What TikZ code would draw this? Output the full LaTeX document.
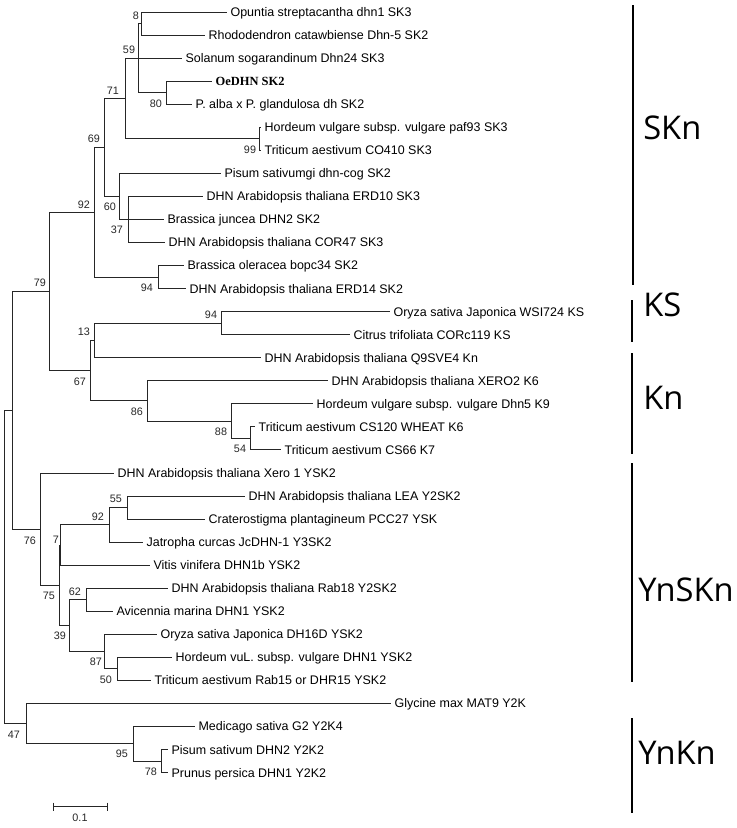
\documentclass[tikz,border=0pt]{standalone}
\usepackage{fontspec}
\setmainfont{Liberation Sans}
\newfontfamily\oefont{Liberation Serif}
\newfontfamily\cladefont{Open Sans}
\usetikzlibrary{positioning}
\tikzstyle{branch} = [line width=0.7pt, black!85]
\tikzstyle{leaf} = [anchor=base west, inner xsep=2.5pt, inner ysep=0pt, yshift=-3.3pt, font=\fontsize{9.35}{11}\selectfont]
\tikzstyle{boot} = [inner sep=0pt, black!85, font=\fontsize{8.1}{10}\selectfont]
\tikzstyle{cladebar} = [line width=1.4pt]
\tikzstyle{cladename} = [anchor=west, inner sep=0pt, font=\cladefont\fontsize{24.5}{29}\selectfont]

\begin{document}
\begin{tikzpicture}[x=0.75pt, y=-0.75pt]
\useasboundingbox (0,0) rectangle (737,828);

% leaf tips
\coordinate (t1) at (227,12.0);
\coordinate (t2) at (205,35.05);
\coordinate (t3) at (182,58.1);
\coordinate (t4) at (212,81.15);
\coordinate (t5) at (192,104.2);
\coordinate (t6) at (261,127.25);
\coordinate (t7) at (261,150.3);
\coordinate (t8) at (221,173.35);
\coordinate (t9) at (203,196.4);
\coordinate (t10) at (164,219.45);
\coordinate (t11) at (165,242.5);
\coordinate (t12) at (184,265.55);
\coordinate (t13) at (186,288.6);
\coordinate (t14) at (390,311.65);
\coordinate (t15) at (350,334.7);
\coordinate (t16) at (261,357.75);
\coordinate (t17) at (328,380.8);
\coordinate (t18) at (313,403.85);
\coordinate (t19) at (255,426.9);
\coordinate (t20) at (281,449.95);
\coordinate (t21) at (114,473.0);
\coordinate (t22) at (245,496.05);
\coordinate (t23) at (205,519.1);
\coordinate (t24) at (143,542.15);
\coordinate (t25) at (150,565.2);
\coordinate (t26) at (168,588.25);
\coordinate (t27) at (113,611.3);
\coordinate (t28) at (157,634.35);
\coordinate (t29) at (172,657.4);
\coordinate (t30) at (151,680.45);
\coordinate (t31) at (391,703.5);
\coordinate (t32) at (195,726.55);
\coordinate (t33) at (168,749.6);
\coordinate (t34) at (168,772.65);

% inner nodes
\coordinate (n8) at (141.5,23.5);
\coordinate (n80) at (166,92.7);
\coordinate (n59) at (138.5,58.1);
\coordinate (n99) at (259.5,138.8);
\coordinate (n71) at (125,98.45);
\coordinate (n37) at (128,219.45);
\coordinate (n60) at (119,196.4);
\coordinate (n69) at (104,147.4);
\coordinate (n94a) at (158,277.1);
\coordinate (n92a) at (94.5,212.25);
\coordinate (n94b) at (221,323.2);
\coordinate (n13) at (94.5,340.5);
\coordinate (n54) at (250,438.4);
\coordinate (n88) at (231,421.1);
\coordinate (n86) at (147,400.95);
\coordinate (n67) at (90,370.7);
\coordinate (n79) at (49,291.5);
\coordinate (n55) at (127,507.6);
\coordinate (n92b) at (109,524.9);
\coordinate (n7) at (60,545.05);
\coordinate (n62) at (86,599.8);
\coordinate (n50) at (117,668.9);
\coordinate (n87) at (104,651.6);
\coordinate (n39) at (69,625.7);
\coordinate (n75) at (59,585.4);
\coordinate (n76) at (40,529.2);
\coordinate (nup) at (12,410.35);
\coordinate (n78) at (161,761.1);
\coordinate (n95) at (133.5,743.8);
\coordinate (n47) at (26,723.65);
\coordinate (root) at (4.5,567);

% branches
\draw[branch] (n8) |- (t1) (n8) |- (t2);
\draw[branch] (n80) |- (t4) (n80) |- (t5);
\draw[branch] (n59) |- (n8) (n59) |- (n80);
\draw[branch] (n99) |- (t6) (n99) |- (t7);
\draw[branch] (n71) |- (t3) (n71) |- (n59) (n71) |- (n99);
\draw[branch] (n37) |- (t9) (n37) |- (t11);
\draw[branch] (n60) |- (t8) (n60) |- (t10) (n60) |- (n37);
\draw[branch] (n69) |- (n71) (n69) |- (n60);
\draw[branch] (n94a) |- (t12) (n94a) |- (t13);
\draw[branch] (n92a) |- (n69) (n92a) |- (n94a);
\draw[branch] (n94b) |- (t14) (n94b) |- (t15);
\draw[branch] (n13) |- (n94b) (n13) |- (t16);
\draw[branch] (n54) |- (t19) (n54) |- (t20);
\draw[branch] (n88) |- (t18) (n88) |- (n54);
\draw[branch] (n86) |- (t17) (n86) |- (n88);
\draw[branch] (n67) |- (n13) (n67) |- (n86);
\draw[branch] (n79) |- (n92a) (n79) |- (n67);
\draw[branch] (n55) |- (t22) (n55) |- (t23);
\draw[branch] (n92b) |- (n55) (n92b) |- (t24);
\draw[branch] (n7) |- (n92b) (n7) |- (t25);
\draw[branch] (n62) |- (t26) (n62) |- (t27);
\draw[branch] (n50) |- (t29) (n50) |- (t30);
\draw[branch] (n87) |- (t28) (n87) |- (n50);
\draw[branch] (n39) |- (n62) (n39) |- (n87);
\draw[branch] (n75) |- (n7) (n75) |- (n39);
\draw[branch] (n76) |- (t21) (n76) |- (n75);
\draw[branch] (nup) |- (n79) (nup) |- (n76);
\draw[branch] (n78) |- (t33) (n78) |- (t34);
\draw[branch] (n95) |- (t32) (n95) |- (n78);
\draw[branch] (n47) |- (t31) (n47) |- (n95);
\draw[branch] (root) |- (nup) (root) |- (n47);

% leaf names
\node[leaf] (l1) at (t1) {Opuntia streptacantha dhn1 SK3};
\node[leaf] (l2) at (t2) {Rhododendron catawbiense Dhn-5 SK2};
\node[leaf] (l3) at (t3) {Solanum sogarandinum Dhn24 SK3};
\node[leaf] (l4) at (t4) {\oefont\bfseries OeDHN SK2};
\node[leaf] (l5) at (t5) {P. alba x P. glandulosa dh SK2};
\node[leaf] (l6) at (t6) {Hordeum vulgare subsp. vulgare paf93 SK3};
\node[leaf] (l7) at (t7) {Triticum aestivum CO410 SK3};
\node[leaf] (l8) at (t8) {Pisum sativumgi dhn-cog SK2};
\node[leaf] (l9) at (t9) {DHN Arabidopsis thaliana ERD10 SK3};
\node[leaf] (l10) at (t10) {Brassica juncea DHN2 SK2};
\node[leaf] (l11) at (t11) {DHN Arabidopsis thaliana COR47 SK3};
\node[leaf] (l12) at (t12) {Brassica oleracea bopc34 SK2};
\node[leaf] (l13) at (t13) {DHN Arabidopsis thaliana ERD14 SK2};
\node[leaf] (l14) at (t14) {Oryza sativa Japonica WSI724 KS};
\node[leaf] (l15) at (t15) {Citrus trifoliata CORc119 KS};
\node[leaf] (l16) at (t16) {DHN Arabidopsis thaliana Q9SVE4 Kn};
\node[leaf] (l17) at (t17) {DHN Arabidopsis thaliana XERO2 K6};
\node[leaf] (l18) at (t18) {Hordeum vulgare subsp. vulgare Dhn5 K9};
\node[leaf] (l19) at (t19) {Triticum aestivum CS120 WHEAT K6};
\node[leaf] (l20) at (t20) {Triticum aestivum CS66 K7};
\node[leaf] (l21) at (t21) {DHN Arabidopsis thaliana Xero 1 YSK2};
\node[leaf] (l22) at (t22) {DHN Arabidopsis thaliana LEA Y2SK2};
\node[leaf] (l23) at (t23) {Craterostigma plantagineum PCC27 YSK};
\node[leaf] (l24) at (t24) {Jatropha curcas JcDHN-1 Y3SK2};
\node[leaf] (l25) at (t25) {Vitis vinifera DHN1b YSK2};
\node[leaf] (l26) at (t26) {DHN Arabidopsis thaliana Rab18 Y2SK2};
\node[leaf] (l27) at (t27) {Avicennia marina DHN1 YSK2};
\node[leaf] (l28) at (t28) {Oryza sativa Japonica DH16D YSK2};
\node[leaf] (l29) at (t29) {Hordeum vuL. subsp. vulgare DHN1 YSK2};
\node[leaf] (l30) at (t30) {Triticum aestivum Rab15 or DHR15 YSK2};
\node[leaf] (l31) at (t31) {Glycine max MAT9 Y2K};
\node[leaf] (l32) at (t32) {Medicago sativa G2 Y2K4};
\node[leaf] (l33) at (t33) {Pisum sativum DHN2 Y2K2};
\node[leaf] (l34) at (t34) {Prunus persica DHN1 Y2K2};

% bootstrap values
\node[boot] (b8) at (136,16) {8};
\node[boot] (b59) at (129,50) {59};
\node[boot] (b80) at (156,104) {80};
\node[boot] (b71) at (113,91) {71};
\node[boot] (b99) at (250,150) {99};
\node[boot] (b69) at (94,139) {69};
\node[boot] (b60) at (110,207) {60};
\node[boot] (b37) at (117,230) {37};
\node[boot] (b92a) at (84,205) {92};
\node[boot] (b94a) at (147,288) {94};
\node[boot] (b79) at (40,283) {79};
\node[boot] (b94b) at (211,315) {94};
\node[boot] (b13) at (84,332) {13};
\node[boot] (b67) at (80,382) {67};
\node[boot] (b86) at (137,412) {86};
\node[boot] (b88) at (221,432) {88};
\node[boot] (b54) at (240,449) {54};
\node[boot] (b76) at (30,541) {76};
\node[boot] (b7) at (56,540) {7};
\node[boot] (b55) at (116,499) {55};
\node[boot] (b92b) at (98,517) {92};
\node[boot] (b75) at (49,596) {75};
\node[boot] (b62) at (75,592) {62};
\node[boot] (b39) at (60,636) {39};
\node[boot] (b87) at (96,662) {87};
\node[boot] (b50) at (106,680) {50};
\node[boot] (b47) at (14,735) {47};
\node[boot] (b95) at (122,754) {95};
\node[boot] (b78) at (151,772) {78};

% scale bar
\coordinate (sbl) at (53,806.5);
\coordinate (sbr) at (107,806.5);
\draw[branch] (sbl) -- (sbr);
\draw[branch] (sbl) ++(0,-4) -- ++(0,8);
\draw[branch] (sbr) ++(0,-4) -- ++(0,8);
\node[boot] (sbtext) at (80,818) {0.1};

% groups
\coordinate (g1a) at (633,5);   \coordinate (g1b) at (633,285);
\coordinate (g2a) at (632,300); \coordinate (g2b) at (632,342);
\coordinate (g3a) at (632,353); \coordinate (g3b) at (632,454);
\coordinate (g4a) at (632,463); \coordinate (g4b) at (632,682);
\coordinate (g5a) at (632,718); \coordinate (g5b) at (632,813);
\draw[cladebar] (g1a) -- (g1b);
\draw[cladebar] (g2a) -- (g2b);
\draw[cladebar] (g3a) -- (g3b);
\draw[cladebar] (g4a) -- (g4b);
\draw[cladebar] (g5a) -- (g5b);
\node[cladename] (skn) at (643,128) {SKn};
\node[cladename] (ks) at (643,305) {KS};
\node[cladename] (kn) at (643,398) {Kn};
\node[cladename] (ynskn) at (638,590) {YnSKn};
\node[cladename] (ynkn) at (638,753) {YnKn};
\end{tikzpicture}
\end{document}
